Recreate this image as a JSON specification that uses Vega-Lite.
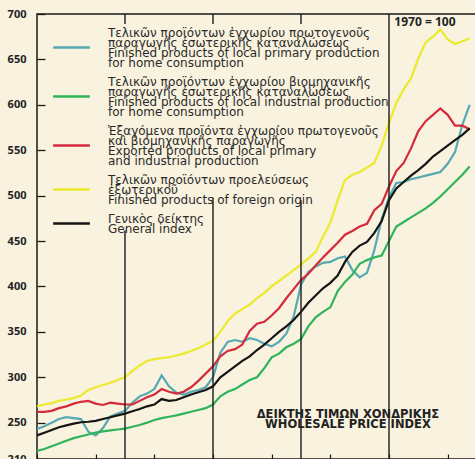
{
  "$schema": "https://vega.github.io/schema/vega-lite/v6.json",
  "width": 440,
  "height": 445,
  "autosize": "none",
  "padding": {"left": 37, "top": 14, "right": 0, "bottom": 0},
  "background": "#f8f2de",
  "config": {
    "view": {"stroke": "#1a1a1a", "strokeWidth": 1.5},
    "font": "DejaVu Sans"
  },
  "datasets": {
    "prices": [
      {"m":0,"A":243,"B":219,"C":262,"D":268,"E":236},
      {"m":1,"A":246,"B":221,"C":262,"D":270,"E":239},
      {"m":2,"A":250,"B":224,"C":263,"D":271.5,"E":242},
      {"m":3,"A":254,"B":227,"C":266,"D":274,"E":245},
      {"m":4,"A":256,"B":230,"C":268,"D":275.5,"E":247},
      {"m":5,"A":255,"B":233,"C":271,"D":277,"E":249},
      {"m":6,"A":254,"B":235,"C":273,"D":280,"E":250.5},
      {"m":7,"A":240,"B":237,"C":274,"D":286,"E":251},
      {"m":8,"A":236,"B":239,"C":271,"D":289,"E":252},
      {"m":9,"A":244,"B":240.5,"C":269.5,"D":291.5,"E":254},
      {"m":10,"A":257,"B":241.5,"C":272,"D":294,"E":256},
      {"m":11,"A":260,"B":242.5,"C":271,"D":297,"E":258},
      {"m":12,"A":263,"B":243.5,"C":270,"D":300,"E":260},
      {"m":13,"A":272,"B":245.5,"C":270,"D":307,"E":262.5},
      {"m":14,"A":279,"B":247.5,"C":274,"D":313,"E":265},
      {"m":15,"A":282,"B":250,"C":278,"D":318,"E":268},
      {"m":16,"A":287,"B":253,"C":281,"D":320,"E":270},
      {"m":17,"A":302,"B":255,"C":287,"D":321,"E":276},
      {"m":18,"A":290,"B":256.5,"C":284,"D":322,"E":274},
      {"m":19,"A":283,"B":258,"C":282,"D":324,"E":275},
      {"m":20,"A":281,"B":260,"C":284,"D":326,"E":278},
      {"m":21,"A":284,"B":262,"C":289,"D":329,"E":281},
      {"m":22,"A":286,"B":264,"C":296,"D":332,"E":283.5},
      {"m":23,"A":289,"B":266,"C":304,"D":336,"E":286},
      {"m":24,"A":300,"B":270,"C":312,"D":340,"E":290},
      {"m":25,"A":327,"B":279,"C":323,"D":350,"E":300},
      {"m":26,"A":339,"B":284,"C":329,"D":362,"E":306},
      {"m":27,"A":341,"B":287,"C":331,"D":370,"E":312},
      {"m":28,"A":339,"B":292,"C":336,"D":375,"E":318},
      {"m":29,"A":343,"B":297,"C":351,"D":380,"E":323},
      {"m":30,"A":341,"B":300,"C":359,"D":387,"E":330},
      {"m":31,"A":337,"B":310,"C":361,"D":393,"E":336},
      {"m":32,"A":334,"B":322,"C":368,"D":400,"E":343},
      {"m":33,"A":339,"B":326,"C":376,"D":406,"E":350},
      {"m":34,"A":348,"B":333,"C":387,"D":412,"E":356},
      {"m":35,"A":367,"B":337,"C":397,"D":418,"E":363},
      {"m":36,"A":402,"B":342,"C":407,"D":424,"E":372},
      {"m":37,"A":416,"B":356,"C":414,"D":431,"E":382},
      {"m":38,"A":422,"B":366,"C":423,"D":438,"E":390},
      {"m":39,"A":426,"B":372,"C":432,"D":455,"E":398},
      {"m":40,"A":427,"B":377,"C":440,"D":470,"E":404},
      {"m":41,"A":431,"B":395,"C":448,"D":495,"E":412},
      {"m":42,"A":433,"B":405,"C":457,"D":517,"E":427},
      {"m":43,"A":418,"B":413,"C":461,"D":523,"E":438},
      {"m":44,"A":410,"B":425,"C":466,"D":526,"E":445},
      {"m":45,"A":415,"B":429,"C":469,"D":531,"E":449},
      {"m":46,"A":440,"B":432,"C":484,"D":536,"E":459},
      {"m":47,"A":474,"B":434,"C":491,"D":555,"E":472},
      {"m":48,"A":498,"B":450,"C":510,"D":580,"E":495},
      {"m":49,"A":514,"B":466,"C":527,"D":602,"E":508},
      {"m":50,"A":515,"B":471,"C":536,"D":617,"E":515},
      {"m":51,"A":518,"B":476,"C":552,"D":629,"E":522},
      {"m":52,"A":520,"B":481,"C":571,"D":651,"E":528},
      {"m":53,"A":522,"B":486,"C":582,"D":669,"E":535},
      {"m":54,"A":524,"B":492,"C":589,"D":675,"E":543},
      {"m":55,"A":526,"B":499,"C":596,"D":683,"E":549},
      {"m":56,"A":535,"B":507,"C":589,"D":672,"E":555},
      {"m":57,"A":548,"B":515,"C":577,"D":667,"E":561},
      {"m":58,"A":578,"B":523,"C":577,"D":670,"E":567},
      {"m":59,"A":600,"B":532,"C":573,"D":673,"E":574}
    ],
    "years": [
      {"m":12,"upto":462},
      {"m":24,"upto":498},
      {"m":36,"upto":495},
      {"m":48,"upto":700}
    ]
  },
  "layer": [
    {
      "data": {"name": "prices"},
      "transform": [{"fold": ["A", "B", "C", "D", "E"], "as": ["series", "value"]}],
      "mark": {"type": "line", "strokeWidth": 2.2},
      "encoding": {
        "x": {"field": "m", "type": "quantitative", "scale": {"domain": [0, 60], "nice": false},
          "axis": {"values": [0,1,2,3,4,5,6,7,8,9,10,11,12,13,14,15,16,17,18,19,20,21,22,23,24,25,26,27,28,29,30,31,32,33,34,35,36,37,38,39,40,41,42,43,44,45,46,47,48,49,50,51,52,53,54,55,56,57,58,59,60],
            "labels": false, "domain": false, "grid": false, "title": null, "tickSize": -5, "tickColor": "#1a1a1a", "tickWidth": 1.2}},
        "y": {"field": "value", "type": "quantitative", "scale": {"domain": [210, 700], "nice": false, "zero": false},
          "axis": {"values": [210,250,300,350,400,450,500,550,600,650,700], "title": null, "grid": false, "domain": false,
            "tickSize": -8, "tickColor": "#1a1a1a", "tickWidth": 1.3, "labelFont": "Noto Sans", "labelFontSize": 11, "labelFontWeight": "bold", "labelColor": "#222222", "labelPadding": 19}},
        "color": {
          "field": "series", "type": "nominal",
          "scale": {"domain": ["A", "B", "C", "D", "E"], "range": ["#56a9b3", "#2fb45a", "#d42a3c", "#ecea2c", "#151515"]},
          "legend": {
            "title": null,
            "orient": "none",
            "legendX": 27,
            "legendY": 26,
            "symbolType": "M-3,0H3",
            "symbolSize": 150,
            "symbolStrokeWidth": 2.6,
            "symbolFillColor": "transparent",
            "labelOffset": 29,
            "rowPadding": 6,
            "labelLimit": 400,
            "labelFont": "DejaVu Sans",
            "labelFontSize": 12,
            "labelColor": "#2a2a2a",
            "labelExpr": "datum.label == 'A' ? ['Τελικῶν προϊόντων ἐγχωρίου πρωτογενοῦς', 'παραγωγῆς ἐσωτερικῆς καταναλώσεως', 'Finished products of local primary production', 'for home consumption'] : datum.label == 'B' ? ['Τελικῶν προϊόντων ἐγχωρίου βιομηχανικῆς', 'παραγωγῆς ἐσωτερικῆς καταναλώσεως', 'Finished products of local industrial production', 'for home consumption'] : datum.label == 'C' ? ['Ἐξαγόμενα προϊόντα ἐγχωρίου πρωτογενοῦς', 'καὶ βιομηχανικῆς παραγωγῆς', 'Exported products of local primary', 'and industrial production'] : datum.label == 'D' ? ['Τελικῶν προϊόντων προελεύσεως', 'ἐξωτερικοῦ', 'Finished products of foreign origin'] : ['Γενικὸς δείκτης', 'General index']",
            "encode": {
              "labels": {"update": {
                "lineHeight": {"value": 10},
                "dy": {"signal": "datum.value == 'E' ? -5 : datum.value == 'D' ? -10 : -15"}
              }}
            }
          }
        }
      }
    },
    {
      "data": {"name": "years"},
      "mark": {"type": "rule", "color": "#1a1a1a", "strokeWidth": 1.4},
      "encoding": {
        "x": {"field": "m", "type": "quantitative"},
        "y": {"field": "upto", "type": "quantitative"},
        "y2": {"datum": 210}
      }
    },
    {
      "data": {"name": "years"},
      "transform": [{"filter": "datum.m < 48"}],
      "mark": {"type": "rule", "color": "#1a1a1a", "strokeWidth": 1.4},
      "encoding": {
        "x": {"field": "m", "type": "quantitative"},
        "y": {"datum": 700, "type": "quantitative"},
        "y2": {"datum": 689}
      }
    },
    {
      "data": {"values": [{}]},
      "mark": {"type": "text", "text": ["ΔΕΙΚΤΗΣ ΤΙΜΩΝ ΧΟΝΔΡΙΚΗΣ", "WHOLESALE PRICE INDEX"], "font": "DejaVu Sans", "fontSize": 11.5, "fontWeight": "bold", "lineHeight": 10.5, "color": "#222222", "align": "center", "baseline": "middle"},
      "encoding": {
        "x": {"datum": 42.4, "type": "quantitative"},
        "y": {"datum": 259, "type": "quantitative"}
      }
    },
    {
      "data": {"values": [{}]},
      "mark": {"type": "text", "text": "1970 = 100", "font": "Noto Sans", "fontSize": 12, "fontWeight": "bold", "color": "#222222", "align": "center", "baseline": "middle"},
      "encoding": {
        "x": {"datum": 52.9, "type": "quantitative"},
        "y": {"datum": 691, "type": "quantitative"}
      }
    }
  ]
}
